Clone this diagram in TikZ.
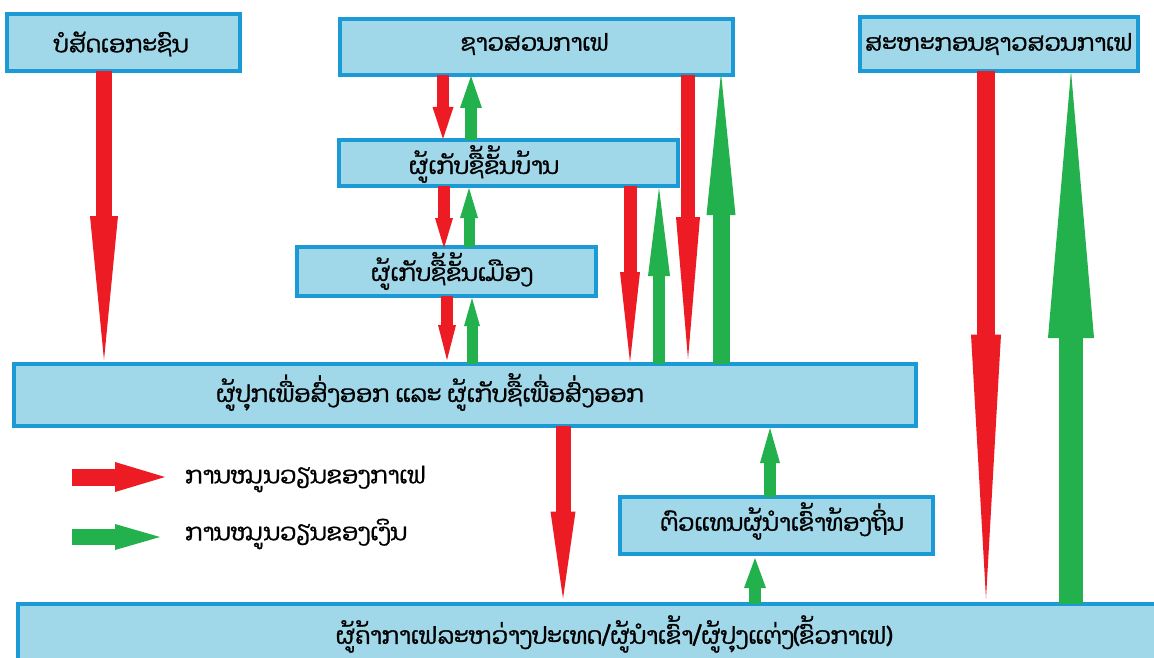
\documentclass[tikz,border=0pt]{standalone}
\usepackage{fontspec}
\newfontfamily\laofont[Script=Lao,FakeBold=1.2]{Dhyana}
\usetikzlibrary{arrows.meta}
\definecolor{boxfill}{HTML}{A0D8EA}
\definecolor{boxline}{HTML}{1B9AD6}
\definecolor{flowred}{HTML}{ED1C24}
\definecolor{flowgreen}{HTML}{22B14C}
\tikzset{
  box/.style={draw=boxline, fill=boxfill, line width=4pt, rectangle, inner sep=0pt, outer sep=0pt},
  lbl/.style={font=\laofont\fontsize{23.5}{28}\selectfont, inner sep=0pt, text=black},
  redarr/.style n args={3}{draw=flowred, line width=#1pt, -{Triangle[length=#2pt, width=#3pt, line width=0pt, fill=flowred, color=flowred]}},
  greenarr/.style n args={3}{draw=flowgreen, line width=#1pt, -{Triangle[length=#2pt, width=#3pt, line width=0pt, fill=flowgreen, color=flowgreen]}}
}
\begin{document}
\begin{tikzpicture}[x=1pt,y=-1pt]
\useasboundingbox[fill=white] (0,0) rectangle (1154,658);
% boxes
\node[box, minimum width=233pt, minimum height=57pt] (A) at (123.5,42.5) {};
\node[box, minimum width=393pt, minimum height=56pt] (B) at (536.5,47) {};
\node[box, minimum width=278pt, minimum height=54pt] (C) at (999,44) {};
\node[box, minimum width=339pt, minimum height=46pt] (D) at (508.5,163) {};
\node[box, minimum width=299pt, minimum height=49pt] (E) at (446.5,271.5) {};
\node[box, minimum width=902pt, minimum height=62pt] (F) at (465,395) {};
\node[box, minimum width=313pt, minimum height=57pt] (G) at (776.5,525.5) {};
\node[box, minimum width=1192pt, minimum height=59pt] (H) at (614,633) {};
% labels
\node[lbl] (At) at (121,44) {ບໍສັດເອກະຊົນ};
\node[lbl] (Bt) at (535,44) {ຊາວສວນກາເຟ};
\node[lbl] (Ct) at (999,44) {ສະຫະກອນຊາວສວນກາເຟ};
\node[lbl] (Dt) at (484,164) {ຜູ້ເກັບຊື້ຂັ້ນບ້ານ};
\node[lbl] (Et) at (452,271) {ຜູ້ເກັບຊື້ຂັ້ນເມືອງ};
\node[lbl] (Ft) at (430,392) {ຜູ້ປຸກເພື່ອສົ່ງອອກ ແລະ ຜູ້ເກັບຊື້ເພື່ອສົ່ງອອກ};
\node[lbl] (Gt) at (782,521) {ຕົວແທນຜູ້ນຳເຂົ້າທ້ອງຖິ່ນ};
\node[lbl] (Ht) at (614,634) {ຜູ້ຄ້າກາເຟລະຫວ່າງປະເທດ/ຜູ້ນຳເຂົ້າ/ຜູ້ປຸງແຕ່ງ(ຂົ້ວກາເຟ)};
% flows
\draw[redarr={16}{144}{28}] ([xshift=-19.5pt]A.south) -- ([xshift=-361pt, yshift=4pt]F.north);
\draw[redarr={12}{32}{21}] ([xshift=-93.5pt]B.south) -- ([xshift=-65.5pt, yshift=1pt]D.north);
\draw[greenarr={12}{32}{22}] ([xshift=-37.5pt]D.north) -- ([xshift=-65.5pt, yshift=-1pt]B.south);
\draw[redarr={12}{30}{18}] ([xshift=-64.5pt]D.south) -- ([xshift=-2.5pt, yshift=-1pt]E.north);
\draw[greenarr={11}{30}{18}] ([xshift=22.5pt]E.north) -- ([xshift=-39.5pt, yshift=-2pt]D.south);
\draw[redarr={12}{35}{18}] ([xshift=0.5pt]E.south) -- ([xshift=-18pt, yshift=4pt]F.north);
\draw[greenarr={11}{28}{16}] ([xshift=7pt]F.north) -- ([xshift=25.5pt, yshift=-2pt]E.south);
\draw[redarr={13}{90}{20}] ([xshift=121.5pt]D.south) -- ([xshift=165pt, yshift=2pt]F.north);
\draw[greenarr={12}{88}{22}] ([xshift=194pt]F.north) -- ([xshift=150.5pt, yshift=-2pt]D.south);
\draw[redarr={14}{142}{24}] ([xshift=151.5pt]B.south) -- ([xshift=223pt, yshift=5pt]F.north);
\draw[greenarr={17}{142}{29}] ([xshift=256pt]F.north) -- ([xshift=184.5pt, yshift=2pt]B.south);
\draw[redarr={18}{264}{30}] ([xshift=-13pt]C.south) -- ([xshift=372pt, yshift=5pt]H.north);
\draw[greenarr={24}{267}{46}] ([xshift=457pt]H.north) -- ([xshift=72pt]C.south);
\draw[redarr={15}{87}{25}] ([xshift=98pt]F.south) -- ([xshift=-51pt, yshift=5pt]H.north);
\draw[greenarr={12}{30}{22}] ([xshift=141pt]H.north) -- ([xshift=-21.5pt, yshift=-4pt]G.south);
\draw[greenarr={12}{35}{20}] ([xshift=-6.5pt]G.north) -- ([xshift=305pt, yshift=-2pt]F.south);
% legend
\coordinate (L1a) at (72,477);
\coordinate (L1b) at (165,477);
\coordinate (L2a) at (72,537);
\coordinate (L2b) at (160,537);
\draw[redarr={17}{50}{30}] (L1a) -- (L1b);
\draw[greenarr={16}{45}{26}] (L2a) -- (L2b);
\node[lbl, anchor=west] (L1t) at (185,479) {ການໝູນວຽນຂອງກາເຟ};
\node[lbl, anchor=west] (L2t) at (185,534) {ການໝູນວຽນຂອງເງິນ};
\end{tikzpicture}
\end{document}
